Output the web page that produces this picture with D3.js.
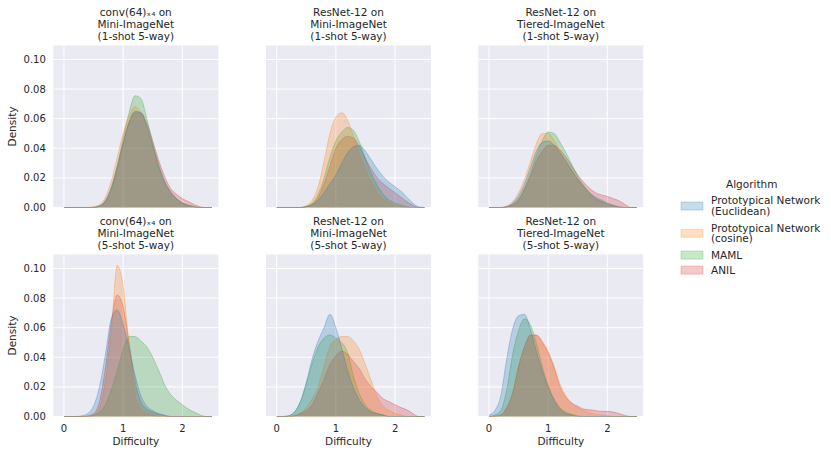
<!DOCTYPE html>
<html>
<head>
    <meta charset="utf-8">
    <script src="https://d3js.org/d3.v7.min.js"></script>
    <style>
        body { margin: 0; background: #ffffff; }
        text { font-family: "DejaVu Sans", sans-serif; fill: #262626; }
    </style>
</head>
<body>
<script type="text/javascript">
    // Difficulty grid that every density curve below is sampled on
    var difficulty = [0.0, 0.1, 0.2, 0.3, 0.4, 0.5, 0.6, 0.7, 0.8, 0.9, 1.0, 1.1, 1.2,
                      1.3, 1.4, 1.5, 1.6, 1.7, 1.8, 1.9, 2.0, 2.1, 2.2, 2.3, 2.4, 2.5];

    var algorithms = ["Prototypical Network (Euclidean)", "Prototypical Network (cosine)", "MAML", "ANIL"];
    var legendLines = [["Prototypical Network", "(Euclidean)"], ["Prototypical Network", "(cosine)"], ["MAML"], ["ANIL"]];
    var colors = ["#1f77b4", "#ff7f0e", "#2ca02c", "#d62728"];

    var xTicks = [0, 1, 2];
    var yTicks = [0.00, 0.02, 0.04, 0.06, 0.08, 0.10];

    // conv(64)x4 on Mini-ImageNet, 1-shot 5-way
    var c4Mini1Euclid = [0, 0, 0, 0, 0, 0.0002, 0.001, 0.005, 0.014, 0.028, 0.044, 0.058, 0.065, 0.064, 0.055, 0.042, 0.029, 0.018, 0.011, 0.006, 0.003, 0.0015, 0.0005, 0, 0, 0];
    var c4Mini1Cosine = [0, 0, 0, 0, 0, 0.0005, 0.002, 0.007, 0.018, 0.034, 0.050, 0.062, 0.068, 0.064, 0.053, 0.040, 0.027, 0.017, 0.010, 0.006, 0.003, 0.0015, 0.0005, 0, 0, 0];
    var c4Mini1Maml = [0, 0, 0, 0, 0, 0, 0.001, 0.004, 0.013, 0.028, 0.047, 0.064, 0.0755, 0.0735, 0.060, 0.043, 0.028, 0.017, 0.010, 0.006, 0.003, 0.0015, 0.0005, 0, 0, 0];
    var c4Mini1Anil = [0, 0, 0, 0, 0, 0, 0.001, 0.004, 0.012, 0.026, 0.043, 0.057, 0.064, 0.064, 0.057, 0.045, 0.032, 0.021, 0.013, 0.009, 0.006, 0.004, 0.002, 0.0005, 0, 0];

    // ResNet-12 on Mini-ImageNet, 1-shot 5-way
    var rnMini1Euclid = [0, 0, 0, 0, 0, 0.0005, 0.002, 0.005, 0.010, 0.016, 0.022, 0.030, 0.037, 0.041, 0.042, 0.038, 0.032, 0.026, 0.021, 0.017, 0.014, 0.011, 0.007, 0.003, 0.0005, 0];
    var rnMini1Cosine = [0, 0, 0, 0, 0, 0.001, 0.005, 0.014, 0.031, 0.050, 0.061, 0.064, 0.059, 0.048, 0.036, 0.026, 0.017, 0.010, 0.006, 0.003, 0.0015, 0.0005, 0, 0, 0, 0];
    var rnMini1Maml = [0, 0, 0, 0, 0, 0.001, 0.003, 0.009, 0.020, 0.034, 0.045, 0.051, 0.054, 0.052, 0.044, 0.033, 0.023, 0.015, 0.009, 0.005, 0.003, 0.0015, 0.0005, 0, 0, 0];
    var rnMini1Anil = [0, 0, 0, 0, 0, 0.0005, 0.002, 0.007, 0.016, 0.028, 0.040, 0.046, 0.048, 0.047, 0.041, 0.033, 0.026, 0.020, 0.016, 0.013, 0.010, 0.007, 0.004, 0.0015, 0, 0];

    // ResNet-12 on Tiered-ImageNet, 1-shot 5-way
    var rnTier1Euclid = [0, 0, 0, 0.0005, 0.003, 0.008, 0.016, 0.027, 0.038, 0.044, 0.045, 0.042, 0.037, 0.031, 0.025, 0.019, 0.014, 0.010, 0.007, 0.005, 0.003, 0.0015, 0.0005, 0, 0, 0];
    var rnTier1Cosine = [0, 0, 0, 0.001, 0.004, 0.010, 0.019, 0.031, 0.043, 0.050, 0.050, 0.045, 0.038, 0.031, 0.025, 0.019, 0.014, 0.009, 0.006, 0.004, 0.0025, 0.0015, 0.0005, 0, 0, 0];
    var rnTier1Maml = [0, 0, 0, 0.0005, 0.002, 0.006, 0.013, 0.023, 0.035, 0.045, 0.051, 0.050, 0.044, 0.037, 0.029, 0.021, 0.015, 0.010, 0.006, 0.004, 0.002, 0.001, 0, 0, 0, 0];
    var rnTier1Anil = [0, 0, 0, 0.0005, 0.002, 0.005, 0.012, 0.021, 0.031, 0.038, 0.042, 0.042, 0.039, 0.034, 0.028, 0.022, 0.017, 0.013, 0.010, 0.0085, 0.0075, 0.006, 0.0045, 0.002, 0, 0];

    // conv(64)x4 on Mini-ImageNet, 5-shot 5-way
    var c4Mini5Euclid = [0, 0, 0, 0.0005, 0.002, 0.007, 0.020, 0.042, 0.066, 0.072, 0.062, 0.046, 0.028, 0.014, 0.007, 0.004, 0.002, 0.001, 0, 0, 0, 0, 0, 0, 0, 0];
    var c4Mini5Cosine = [0, 0, 0, 0, 0, 0.001, 0.006, 0.024, 0.058, 0.102, 0.088, 0.048, 0.015, 0.005, 0.002, 0.001, 0, 0, 0, 0, 0, 0, 0, 0, 0, 0];
    var c4Mini5Maml = [0, 0, 0, 0, 0, 0.001, 0.003, 0.008, 0.018, 0.031, 0.045, 0.054, 0.054, 0.051, 0.047, 0.040, 0.031, 0.0215, 0.015, 0.011, 0.008, 0.005, 0.003, 0.001, 0, 0];
    var c4Mini5Anil = [0, 0, 0, 0, 0.0005, 0.002, 0.010, 0.033, 0.064, 0.082, 0.074, 0.050, 0.024, 0.010, 0.005, 0.003, 0.0015, 0.0005, 0, 0, 0, 0, 0, 0, 0, 0];

    // ResNet-12 on Mini-ImageNet, 5-shot 5-way
    var rnMini5Euclid = [0, 0, 0.0005, 0.003, 0.010, 0.023, 0.039, 0.051, 0.060, 0.069, 0.060, 0.046, 0.031, 0.019, 0.011, 0.006, 0.003, 0.002, 0.001, 0, 0, 0, 0, 0, 0, 0];
    var rnMini5Cosine = [0, 0, 0, 0.0005, 0.002, 0.006, 0.012, 0.020, 0.034, 0.047, 0.052, 0.054, 0.054, 0.051, 0.045, 0.035, 0.024, 0.013, 0.007, 0.004, 0.002, 0.001, 0, 0, 0, 0];
    var rnMini5Maml = [0, 0, 0.0005, 0.003, 0.010, 0.022, 0.036, 0.047, 0.053, 0.055, 0.053, 0.050, 0.043, 0.027, 0.015, 0.008, 0.004, 0.002, 0.001, 0, 0, 0, 0, 0, 0, 0];
    var rnMini5Anil = [0, 0, 0, 0.0005, 0.002, 0.004, 0.008, 0.016, 0.025, 0.035, 0.041, 0.044, 0.042, 0.037, 0.032, 0.025, 0.020, 0.016, 0.012, 0.010, 0.008, 0.006, 0.0045, 0.002, 0, 0];

    // ResNet-12 on Tiered-ImageNet, 5-shot 5-way
    var rnTier5Euclid = [0.001, 0.004, 0.014, 0.039, 0.059, 0.068, 0.069, 0.059, 0.044, 0.031, 0.020, 0.011, 0.005, 0.002, 0.001, 0, 0, 0, 0, 0, 0, 0, 0, 0, 0, 0];
    var rnTier5Cosine = [0, 0, 0.001, 0.006, 0.016, 0.033, 0.047, 0.054, 0.055, 0.051, 0.044, 0.034, 0.022, 0.014, 0.009, 0.006, 0.004, 0.0025, 0.0015, 0.001, 0.0005, 0, 0, 0, 0, 0];
    var rnTier5Maml = [0, 0.001, 0.004, 0.018, 0.042, 0.058, 0.066, 0.062, 0.050, 0.034, 0.021, 0.012, 0.006, 0.003, 0.0015, 0.0005, 0, 0, 0, 0, 0, 0, 0, 0, 0, 0];
    var rnTier5Anil = [0, 0.0003, 0.001, 0.006, 0.016, 0.034, 0.047, 0.055, 0.055, 0.050, 0.043, 0.033, 0.020, 0.013, 0.009, 0.007, 0.005, 0.0045, 0.004, 0.0035, 0.0035, 0.003, 0.002, 0.0007, 0, 0];

    var panelTitles = [
        ["conv(64)\u2093\u2084 on", "Mini-ImageNet", "(1-shot 5-way)"],
        ["ResNet-12 on", "Mini-ImageNet", "(1-shot 5-way)"],
        ["ResNet-12 on", "Tiered-ImageNet", "(1-shot 5-way)"],
        ["conv(64)\u2093\u2084 on", "Mini-ImageNet", "(5-shot 5-way)"],
        ["ResNet-12 on", "Mini-ImageNet", "(5-shot 5-way)"],
        ["ResNet-12 on", "Tiered-ImageNet", "(5-shot 5-way)"]
    ];
    // per panel: Euclidean, cosine, MAML, ANIL
    var panelSeries = [
        [c4Mini1Euclid, c4Mini1Cosine, c4Mini1Maml, c4Mini1Anil],
        [rnMini1Euclid, rnMini1Cosine, rnMini1Maml, rnMini1Anil],
        [rnTier1Euclid, rnTier1Cosine, rnTier1Maml, rnTier1Anil],
        [c4Mini5Euclid, c4Mini5Cosine, c4Mini5Maml, c4Mini5Anil],
        [rnMini5Euclid, rnMini5Cosine, rnMini5Maml, rnMini5Anil],
        [rnTier5Euclid, rnTier5Cosine, rnTier5Maml, rnTier5Anil]
    ];

    var svg = d3.select("body").append("svg")
        .attr("width", 831)
        .attr("height", 456);

    var colLeft = [53.3, 266, 478.3];
    var rowTop = [45.5, 254.5];
    var w = 165, h = 162;

    var x = d3.scaleLinear().domain([-0.18, 2.607]).range([0, w]);
    var y = d3.scaleLinear().domain([0, 0.1094]).range([h, 0]);

    var area = d3.area()
        .x(function(d) { return x(d[0]); })
        .y0(h)
        .y1(function(d) { return y(d[1]); })
        .curve(d3.curveMonotoneX);
    var line = d3.line()
        .x(function(d) { return x(d[0]); })
        .y(function(d) { return y(d[1]); })
        .curve(d3.curveMonotoneX);

    panelSeries.forEach(function(series, p) {
        var row = Math.floor(p / 3), col = p % 3;
        var g = svg.append("g")
            .attr("transform", "translate(" + colLeft[col] + "," + rowTop[row] + ")");

        g.append("rect")
            .attr("width", w)
            .attr("height", h)
            .style("fill", "#eaeaf2");

        // grid
        g.selectAll(".ygrid").data(yTicks).enter().append("line")
            .attr("x1", 0).attr("x2", w)
            .attr("y1", function(d) { return y(d); })
            .attr("y2", function(d) { return y(d); })
            .style("stroke", "#ffffff").style("stroke-width", 1);
        g.selectAll(".xgrid").data(xTicks).enter().append("line")
            .attr("y1", 0).attr("y2", h)
            .attr("x1", function(d) { return x(d); })
            .attr("x2", function(d) { return x(d); })
            .style("stroke", "#ffffff").style("stroke-width", 1);

        // seaborn draws the last hue first, so Euclidean ends up on top
        d3.range(3, -1, -1).forEach(function(k) {
            var pts = difficulty.map(function(v, i) { return [v, series[k][i]]; });
            g.append("path")
                .datum(pts)
                .attr("d", area)
                .style("fill", colors[k])
                .style("fill-opacity", 0.25);
            g.append("path")
                .datum(pts)
                .attr("d", line)
                .style("fill", "none")
                .style("stroke", colors[k])
                .style("stroke-opacity", 0.3)
                .style("stroke-width", 1);
        });

        // title, three lines
        var lines = panelTitles[p];
        lines.forEach(function(t, i) {
            g.append("text")
                .attr("x", w / 2)
                .attr("y", -6 - (lines.length - 1 - i) * 11.7)
                .attr("text-anchor", "middle")
                .style("font-size", "10.5px")
                .text(t);
        });

        if (col === 0) {
            g.selectAll(".ytick").data(yTicks).enter().append("text")
                .attr("x", -7.5)
                .attr("y", function(d) { return y(d); })
                .attr("dy", "0.36em")
                .attr("text-anchor", "end")
                .style("font-size", "10px")
                .text(function(d) { return d3.format(".2f")(d); });
            g.append("text")
                .attr("transform", "translate(" + (15.5 - colLeft[0]) + "," + (h / 2) + ") rotate(-90)")
                .attr("text-anchor", "middle")
                .style("font-size", "10.5px")
                .text("Density");
        }
        if (row === 1) {
            g.selectAll(".xtick").data(xTicks).enter().append("text")
                .attr("x", function(d) { return x(d); })
                .attr("y", h + 15)
                .attr("text-anchor", "middle")
                .style("font-size", "10px")
                .text(function(d) { return d; });
            g.append("text")
                .attr("x", w / 2)
                .attr("y", h + 28.5)
                .attr("text-anchor", "middle")
                .style("font-size", "10.5px")
                .text("Difficulty");
        }
    });

    // legend
    var legend = svg.append("g");
    legend.append("text")
        .attr("x", 751.7)
        .attr("y", 188.3)
        .attr("text-anchor", "middle")
        .style("font-size", "10.5px")
        .text("Algorithm");

    var base = 204.3;
    algorithms.forEach(function(a, k) {
        var ls = legendLines[k];
        var mid = base + (ls.length - 1) * 10.7 / 2 - 3.6;
        legend.append("rect")
            .attr("x", 681)
            .attr("y", mid - 4)
            .attr("width", 22)
            .attr("height", 8)
            .style("fill", colors[k])
            .style("fill-opacity", 0.25)
            .style("stroke", colors[k])
            .style("stroke-opacity", 0.25)
            .style("stroke-width", 1);
        ls.forEach(function(t, i) {
            legend.append("text")
                .attr("x", 711)
                .attr("y", base + i * 10.7)
                .style("font-size", "10.5px")
                .text(t);
        });
        base += ls.length === 1 ? 15 : 27.2;
    });
</script>
</body>
</html>
